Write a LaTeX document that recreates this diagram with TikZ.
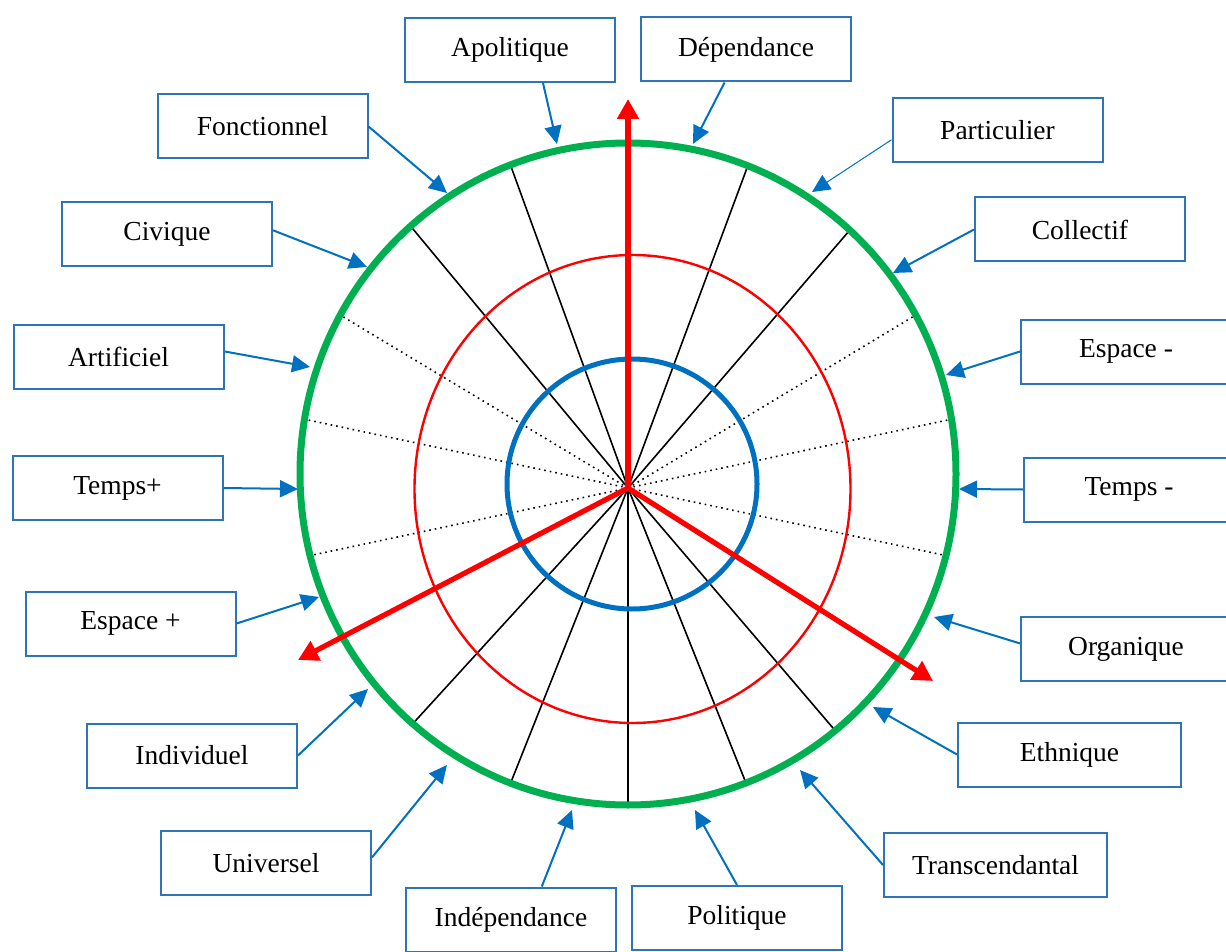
\documentclass[tikz,border=0pt]{standalone}
\usepackage{fontspec}
\setmainfont{Liberation Serif}
\usetikzlibrary{arrows.meta}
\definecolor{boxblue}{RGB}{46,117,182}
\definecolor{arrblue}{RGB}{0,112,192}
\definecolor{ringgreen}{RGB}{0,176,80}
\begin{document}
\begin{tikzpicture}[x=0.5pt, y=-0.5pt, >={Triangle[length=9pt, width=8.5pt]}]
    \tikzset{
        block/.style = {draw=boxblue, line width=1pt, rectangle, minimum width=105pt, minimum height=32pt, font=\fontsize{13.75}{16}\selectfont},
        wide/.style  = {block, minimum width=111.5pt},
        conn/.style  = {->, draw=arrblue, line width=1pt},
        spoke/.style = {black, line width=0.8pt},
        dots/.style  = {spoke, dotted},
        axis/.style  = {red, line width=2.6pt, -{Triangle[length=10pt, width=10.5pt]}}
    }
    \clip (0,0) rectangle (1226,952);
    \coordinate (C) at (628,488);

    % spokes, cut at the green ring
    \begin{scope}
        \clip (628,474) ellipse [x radius=328, y radius=331];
        \foreach \a in {69.6,49.3,110,129.7,-49.5,-68.2,-90,-111.7,-132.4}
            \draw[spoke] (C) -- ++({-(\a)}:420);
        \foreach \a in {31,12,-12,149,168,-168}
            \draw[dots] (C) -- ++({-(\a)}:420);
    \end{scope}

    \draw[red, line width=1.2pt] (632.5,489) ellipse [x radius=218, y radius=234];
    \draw[arrblue, line width=2.5pt] (632,484) circle [radius=125];
    \draw[ringgreen, line width=3.5pt] (628,474) ellipse [x radius=328, y radius=331];

    \coordinate (UP) at (628,99);
    \coordinate (RD) at (933,681);
    \coordinate (LD) at (298,660);
    \draw[axis] (C) -- (UP);
    \draw[axis] (C) -- (RD);
    \draw[axis] (C) -- (LD);

    % labels round the ring
    \node[block] (APO) at (510,50)      {Apolitique};
    \node[block] (DEP) at (746,49.5)    {Dépendance};
    \node[block] (FON) at (262.5,126.5) {Fonctionnel};
    \node[block] (CIV) at (167,234)     {Civique};
    \node[block] (ART) at (118.5,357)   {Artificiel};
    \node[block] (TPP) at (117.5,488)   {Temps+};
    \node[block] (ESP) at (130.5,623.5) {Espace +};
    \node[block] (IND) at (192,755.5)   {Individuel};
    \node[block] (UNI) at (266,863)     {Universel};
    \node[block] (INP) at (511,919.5)   {Indépendance};
    \node[block] (POL) at (737,918)     {Politique};
    \node[wide]  (TRA) at (995.5,865)   {Transcendantal};
    \node[wide]  (ETH) at (1069.5,754.5){Ethnique};
    \node[block] (ORG) at (1126,649)    {Organique};
    \node[block] (TPM) at (1129,489.5)  {Temps -};
    \node[block] (ESM) at (1126,351.5)  {Espace -};
    \node[block] (COL) at (1080,229.5)  {Collectif};
    \node[block] (PAR) at (997.5,130.5) {Particulier};

    \foreach \n/\x/\y in {APO/557/144, DEP/693/144, FON/447/193, CIV/367/267, ART/310/367,
        TPP/298/489, ESP/319/597, IND/368/689, UNI/447/765, INP/572/810, POL/695/810,
        TRA/800/770, ETH/873/707, ORG/934/617, TPM/959/489, ESM/946/375, COL/893/273, PAR/812/192}
        \coordinate (t\n) at (\x,\y);

    \foreach \n/\anc in {APO/-45, DEP/-123, FON/east, CIV/2, ART/3, TPP/east, ESP/east, IND/east,
        UNI/3, INP/47, POL/north, TRA/west, ETH/west, ORG/177, TPM/west, ESM/west, COL/west}
        \draw[conn] (\n.\anc) -- (t\n);
    \draw[conn, line width=0.5pt] (PAR.185) -- (tPAR);
\end{tikzpicture}
\end{document}
